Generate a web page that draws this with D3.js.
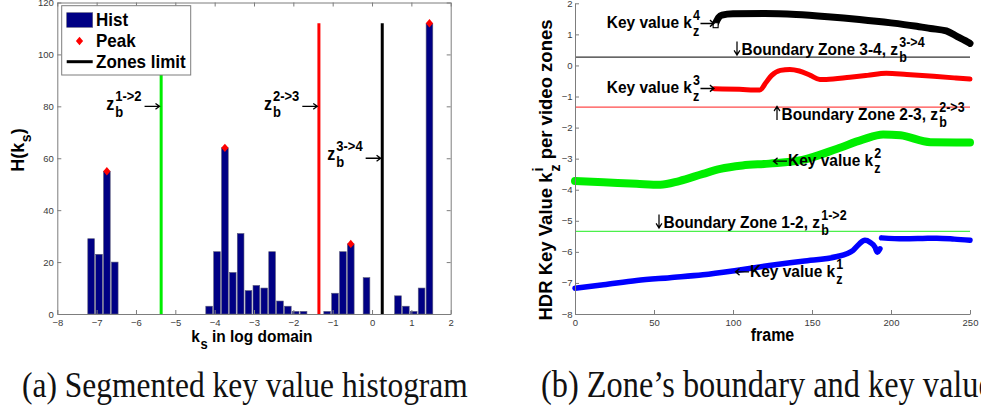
<!DOCTYPE html>
<html>
<head>
<meta charset="utf-8">
<script src="https://cdn.jsdelivr.net/npm/d3@7"></script>
<style>
  body { margin: 0; background: #fff; }
  svg { display: block; }
  text { white-space: pre; }
</style>
</head>
<body>
<svg id="fig" width="981" height="408"></svg>
<script>
// ---------- Panel (a): segmented key value histogram ----------
const binStart = -7.14;          // centre of the first bin (log domain)
const binStep = 0.2;             // bin spacing
const histCounts = [29, 23, 55, 20, 0, 0, 0, 0, 0, 0, 0, 0, 0, 0, 0,
                    3, 24, 64, 16, 31, 9, 11, 10, 24, 5, 3, 1, 1, 0, 0,
                    1, 8, 24, 27, 0, 14, 0, 0, 0, 7, 3, 1, 10, 112];
const peakBins = [2, 17, 33, 43];
const zoneLimits = [-5.36, -1.35, 0.26];
const zoneLimitColors = ["#00ee00", "#ff0000", "#000000"];
const zoneLimitHeight = 112;
const zoneLimitLabels = [["1->2", 80], ["2->3", 80], ["3->4", 60]];
const histXTicks = [-8, -7, -6, -5, -4, -3, -2, -1, 0, 1, 2];
const histYTicks = [0, 20, 40, 60, 80, 100, 120];
const legendLabels = ["Hist", "Peak", "Zones limit"];

// ---------- Panel (b): key value per video zone over frames ----------
const k4Frames = [89, 91, 93, 100, 120, 140, 160, 180, 200, 215, 225, 235, 242, 247, 250];
const k4Values = [1.36, 1.55, 1.62, 1.66, 1.67, 1.64, 1.57, 1.48, 1.37, 1.27, 1.19, 1.11, 0.93, 0.80, 0.71];
const k3Frames = [88, 104, 117, 121, 124.5, 130, 136, 142, 149, 155, 159, 174, 185, 197, 210, 227, 240, 250];
const k3Values = [-0.75, -0.77, -0.79, -0.54, -0.32, -0.16, -0.13, -0.18, -0.32, -0.45, -0.45, -0.38, -0.32, -0.25, -0.29, -0.35, -0.40, -0.44];
const k2Frames = [0, 18, 39, 54, 66, 81, 92, 106, 123, 144, 166, 182, 195, 206, 225, 250];
const k2Values = [-3.72, -3.76, -3.81, -3.84, -3.72, -3.49, -3.33, -3.22, -3.16, -3.04, -2.68, -2.39, -2.22, -2.25, -2.47, -2.48];
const k1FramesA = [0, 18, 39, 60, 81, 102, 123, 144, 166, 172, 176, 180, 183.5, 186.7, 189.9, 191.3, 193];
const k1ValuesA = [-7.17, -7.06, -6.92, -6.83, -6.74, -6.60, -6.44, -6.30, -6.15, -6.06, -5.95, -5.74, -5.63, -5.69, -5.85, -6.01, -5.90];
const k1FramesB = [194, 208, 220, 229, 240, 250];
const k1ValuesB = [-5.55, -5.58, -5.57, -5.56, -5.59, -5.63];
const boundaries = [0.27, -1.34, -5.34];
const boundaryColors = ["#333333", "#ff4a4a", "#4cf04c"];
const frameTicks = [0, 50, 100, 150, 200, 250];
const keyTicks = [-8, -7, -6, -5, -4, -3, -2, -1, 0, 1, 2];

const captions = ["(a) Segmented key value histogram", "(b) Zone\u2019s boundary and key value"];

const SANS = "'Liberation Sans', Arial, Helvetica, sans-serif";
const AXIS_GREY = "#7d7d7d";
const svg = d3.select("#fig");

// Thin open-headed arrow; (x1,y1) tail, (x2,y2) tip
function arrowPath(x1, y1, x2, y2) {
  const a = Math.atan2(y2 - y1, x2 - x1), h = 5, s = 0.62;
  const p1 = [x2 - h * Math.cos(a - s), y2 - h * Math.sin(a - s)];
  const p2 = [x2 - h * Math.cos(a + s), y2 - h * Math.sin(a + s)];
  return `M${x1},${y1}L${x2},${y2}M${p1[0]},${p1[1]}L${x2},${y2}L${p2[0]},${p2[1]}`;
}

// Text built from runs of plain text, stacked super/subscripts and arrows.
function rich(parent, x, y, parts, o) {
  const fs = o.size, ss = o.script || fs * 0.8;
  const g = parent.append("g")
    .attr("font-family", SANS)
    .attr("font-weight", o.weight || "bold")
    .attr("fill", o.fill || "#000");
  const inner = g.append("g");
  let cx = 0;
  parts.forEach(p => {
    if (typeof p === "string") {
      const t = inner.append("text").attr("x", cx).attr("y", 0)
        .attr("font-size", fs).text(p);
      cx += t.node().getComputedTextLength();
    } else if (p.arrow) {
      const len = p.len || 13;
      let d;
      if (p.arrow === "r") d = arrowPath(cx + 0.5, -fs * 0.28, cx + len, -fs * 0.28);
      else if (p.arrow === "l") d = arrowPath(cx + len, -fs * 0.28, cx + 0.5, -fs * 0.28);
      else if (p.arrow === "d") d = arrowPath(cx + 4, -fs * 0.78, cx + 4, 0);
      else d = arrowPath(cx + 4, 0, cx + 4, -fs * 0.78);
      inner.append("path").attr("d", d).attr("fill", "none")
        .attr("stroke", o.fill || "#000").attr("stroke-width", 1.25);
      cx += (p.arrow === "r" || p.arrow === "l") ? len + 1 : 8.5;
    } else {
      const gap = p.gap == null ? 1 : p.gap;
      let w = 0;
      if (p.sup) {
        const t = inner.append("text").attr("x", cx + gap).attr("y", -fs * 0.47)
          .attr("font-size", ss).text(p.sup);
        w = Math.max(w, t.node().getComputedTextLength());
      }
      if (p.sub) {
        const t = inner.append("text").attr("x", cx + gap).attr("y", fs * 0.42)
          .attr("font-size", ss).text(p.sub);
        w = Math.max(w, t.node().getComputedTextLength());
      }
      cx += w + gap;
    }
  });
  const shift = o.anchor === "middle" ? -cx / 2 : o.anchor === "end" ? -cx : 0;
  inner.attr("transform", `translate(${shift},0)`);
  g.attr("transform", `translate(${x},${y}) rotate(${o.rotate || 0}) scale(1,${o.sy || 1})`);
  return g;
}

function styleAxis(g, fontSize) {
  g.select(".domain").attr("stroke", AXIS_GREY).attr("stroke-width", 1);
  g.selectAll(".tick line").attr("stroke", AXIS_GREY);
  g.selectAll(".tick text").attr("fill", "#3a3a3a")
    .attr("font-family", SANS).attr("font-size", fontSize);
}

// ================= Panel (a) =================
const xA = d3.scaleLinear().domain([-8, 2]).range([57.3, 450.7]);
const yA = d3.scaleLinear().domain([0, 120]).range([314, 2.5]);
const gA = svg.append("g");

const bins = histCounts.map((c, i) => ({ i, x: binStart + i * binStep, c }));
const barW = binStep * 0.85;
gA.append("g").selectAll("rect").data(bins.filter(d => d.c > 0)).join("rect")
  .attr("x", d => xA(d.x - barW / 2))
  .attr("width", xA(barW) - xA(0))
  .attr("y", d => yA(d.c))
  .attr("height", d => yA(0) - yA(d.c))
  .attr("fill", "#000084")
  .attr("stroke", "#5c5c7a").attr("stroke-width", 0.6);

gA.append("g").selectAll("line").data(zoneLimits).join("line")
  .attr("x1", d => xA(d)).attr("x2", d => xA(d))
  .attr("y1", yA(0)).attr("y2", yA(zoneLimitHeight))
  .attr("stroke", (d, i) => zoneLimitColors[i]).attr("stroke-width", 3);

const diamond = "M0,-4.2L3.6,0L0,4.2L-3.6,0Z";
gA.append("g").selectAll("path").data(peakBins.map(i => bins[i])).join("path")
  .attr("d", diamond)
  .attr("transform", d => `translate(${xA(d.x)},${yA(d.c)})`)
  .attr("fill", "#ff0000");

// Axes with inward ticks on all four sides
styleAxis(gA.append("g").attr("transform", `translate(0,${yA(0)})`)
  .call(d3.axisBottom(xA).tickValues(histXTicks).tickSizeInner(-4).tickSizeOuter(0).tickPadding(5)), 9.5);
styleAxis(gA.append("g").attr("transform", `translate(0,${yA(120)})`)
  .call(d3.axisTop(xA).tickValues(histXTicks).tickSizeInner(-4).tickSizeOuter(0).tickFormat("")), 9.5);
styleAxis(gA.append("g").attr("transform", `translate(${xA(-8)},0)`)
  .call(d3.axisLeft(yA).tickValues(histYTicks).tickSizeInner(-4).tickSizeOuter(0).tickPadding(3.5)), 9.5);
styleAxis(gA.append("g").attr("transform", `translate(${xA(2)},0)`)
  .call(d3.axisRight(yA).tickValues(histYTicks).tickSizeInner(-4).tickSizeOuter(0).tickFormat("")), 9.5);

// Zone limit call-outs
zoneLimitLabels.forEach(([lab, v], i) => {
  const xe = xA(zoneLimits[i]) - 1.6;
  const ya = yA(v);
  gA.append("path").attr("d", arrowPath(xe - 15, ya, xe, ya))
    .attr("fill", "none").attr("stroke", "#000").attr("stroke-width", 1.3);
  rich(gA, xe - 18, ya + (i === 2 ? 1.5 : 3.4), ["z", { sup: lab, sub: "b" }],
       { size: 16, script: 13, anchor: "end", sy: 1.1 });
});

// Legend
const lg = gA.append("g");
lg.append("rect").attr("x", 61.7).attr("y", 5.7).attr("width", 129).attr("height", 69.3)
  .attr("fill", "#fff").attr("stroke", AXIS_GREY).attr("stroke-width", 1);
lg.append("rect").attr("x", 66.7).attr("y", 12.7).attr("width", 26).attr("height", 14.6)
  .attr("fill", "#000084").attr("stroke", "#5c5c7a").attr("stroke-width", 0.6);
lg.append("path").attr("d", diamond).attr("transform", "translate(79.5,41)").attr("fill", "#ff0000");
lg.append("line").attr("x1", 66.7).attr("x2", 92.7).attr("y1", 61.7).attr("y2", 61.7)
  .attr("stroke", "#000").attr("stroke-width", 3);
[26.3, 47.3, 67.8].forEach((yy, i) => rich(lg, 96, yy, [legendLabels[i]], { size: 17, sy: 1.1 }));

// Axis titles
rich(gA, 23.5, 150, ["H(k", { sub: "s", gap: 0.5 }, ")"], { size: 18, script: 14, anchor: "middle", rotate: -90 });
rich(gA, 252, 342, ["k", { sub: "s", gap: 0.5 }, " in log domain"], { size: 15.5, script: 13, anchor: "middle", sy: 1.12 });

// ================= Panel (b) =================
const xB = d3.scaleLinear().domain([0, 250]).range([575, 970]);
const yB = d3.scaleLinear().domain([-8, 2]).range([314, 3.3]);
const gB = svg.append("g");

gB.append("g").selectAll("line").data(boundaries).join("line")
  .attr("x1", xB(0)).attr("x2", xB(250))
  .attr("y1", d => yB(d)).attr("y2", d => yB(d))
  .attr("stroke", (d, i) => boundaryColors[i]).attr("stroke-width", 1.3);

const line = d3.line().x(d => xB(d[0])).y(d => yB(d[1])).curve(d3.curveMonotoneX);
const zip = (f, v) => f.map((x, i) => [x, v[i]]);
const series = [
  { pts: zip(k2Frames, k2Values), color: "#00ee00", w: 8 },
  { pts: zip(k1FramesA, k1ValuesA), color: "#0000ff", w: 5.5 },
  { pts: zip(k1FramesB, k1ValuesB), color: "#0000ff", w: 5.5 },
  { pts: zip(k3Frames, k3Values), color: "#ff0000", w: 5 },
  { pts: zip(k4Frames, k4Values), color: "#000000", w: 7 }
];
gB.append("g").selectAll("path").data(series).join("path")
  .attr("d", d => line(d.pts))
  .attr("fill", "none")
  .attr("stroke", d => d.color)
  .attr("stroke-width", d => d.w)
  .attr("stroke-linecap", "round").attr("stroke-linejoin", "round");
// open square on the first sample of the top zone
gB.append("rect")
  .attr("x", xB(k4Frames[0]) - 2.5).attr("y", yB(k4Values[0]) - 0.5)
  .attr("width", 5).attr("height", 5)
  .attr("fill", "#fff").attr("stroke", "#000").attr("stroke-width", 1.1);

// Axes: left and bottom only, inward ticks
styleAxis(gB.append("g").attr("transform", `translate(0,${yB(-8)})`)
  .call(d3.axisBottom(xB).tickValues(frameTicks).tickSizeInner(-4).tickSizeOuter(0).tickPadding(5)), 9.5);
styleAxis(gB.append("g").attr("transform", `translate(${xB(0)},0)`)
  .call(d3.axisLeft(yB).tickValues(keyTicks).tickSizeInner(-4).tickSizeOuter(0).tickPadding(2.5)), 9.5);

// Call-outs
const ann = { size: 15.5, script: 12.5, sy: 1.12 };
rich(gB, 606.7, 28.3, ["Key value k", { sup: "4", sub: "z" }, { arrow: "r", len: 14 }], ann);
rich(gB, 606.7, 93.3, ["Key value k", { sup: "3", sub: "z" }, { arrow: "r", len: 14 }], ann);
rich(gB, 733, 55, [{ arrow: "d" }, "Boundary Zone 3-4, z", { sup: "3->4", sub: "b" }], ann);
rich(gB, 773, 120, [{ arrow: "u" }, "Boundary Zone 2-3, z", { sup: "2->3", sub: "b" }], ann);
rich(gB, 773, 166, [{ arrow: "l", len: 14 }, "Key value k", { sup: "2", sub: "z" }], ann);
rich(gB, 655, 228, [{ arrow: "d" }, "Boundary Zone 1-2, z", { sup: "1->2", sub: "b" }], ann);
rich(gB, 735, 276.7, [{ arrow: "l", len: 14 }, "Key value k", { sup: "1", sub: "z" }], ann);

// Axis titles
rich(gB, 552, 170, ["HDR Key Value k", { sup: "i", sub: "z", gap: 1 }, " per video zones"],
     { size: 18.5, script: 14, anchor: "middle", rotate: -90 });
rich(gB, 772.5, 341, ["frame"], { size: 16, sy: 1.1, anchor: "middle" });

// ================= Captions =================
const cap = svg.append("g").attr("font-family", "'Liberation Serif', 'Times New Roman', serif")
  .attr("fill", "#111");
const capA = cap.append("text").attr("font-size", 31).text(captions[0]);
const capSizeA = 31 * 446 / capA.node().getComputedTextLength();
capA.attr("font-size", capSizeA).attr("transform", "translate(22,397) scale(1,1.15)");
const capB = cap.append("text").attr("font-size", 31).text(captions[1]);
const capSizeB = 31 * 452 / capB.node().getComputedTextLength();
capB.attr("font-size", capSizeB).attr("transform", "translate(541,397) scale(1,1.15)");
</script>
</body>
</html>
